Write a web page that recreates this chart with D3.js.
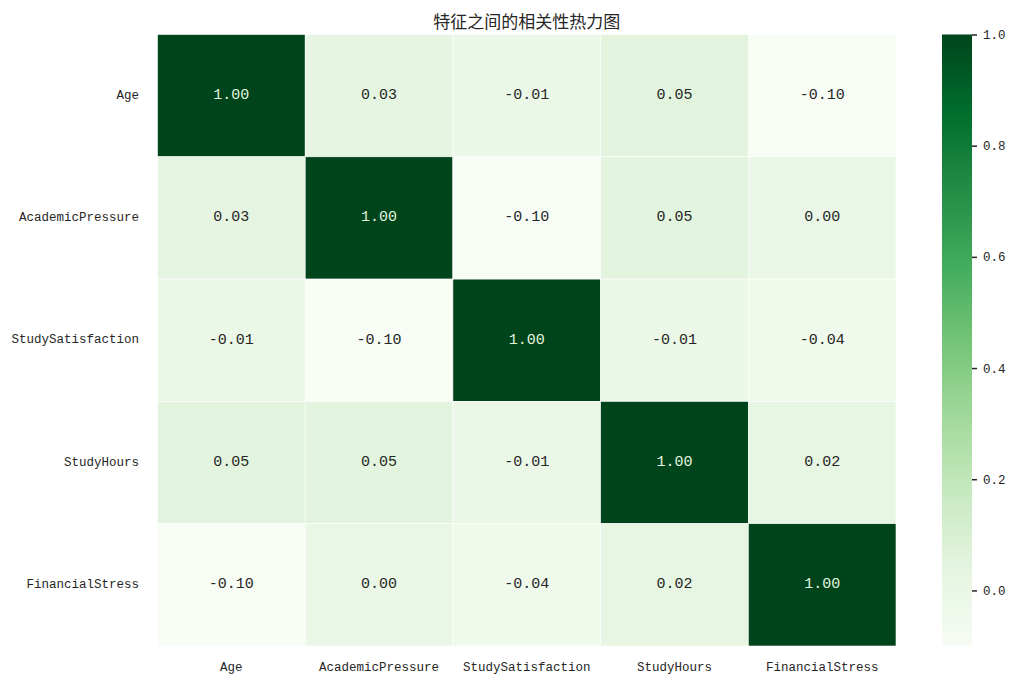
<!DOCTYPE html>
<html>
<head>
<meta charset="utf-8">
<script src="https://cdn.jsdelivr.net/npm/d3@7"></script>
<style>
  body { margin: 0; background: #fff; }
  text { font-family: "Liberation Mono", "DejaVu Sans Mono", monospace; }
  .title { font-family: "Noto Sans CJK SC", sans-serif; }
</style>
</head>
<body>
<svg id="chart" width="1020" height="684"></svg>
<script>
const features = ['Age', 'AcademicPressure', 'StudySatisfaction', 'StudyHours', 'FinancialStress'];

const corrAge = [1.00, 0.03, -0.01, 0.05, -0.10];
const corrAcademicPressure = [0.03, 1.00, -0.10, 0.05, 0.00];
const corrStudySatisfaction = [-0.01, -0.10, 1.00, -0.01, -0.04];
const corrStudyHours = [0.05, 0.05, -0.01, 1.00, 0.02];
const corrFinancialStress = [-0.10, 0.00, -0.04, 0.02, 1.00];

const colorbarTicks = [0.0, 0.2, 0.4, 0.6, 0.8, 1.0];

const matrix = [corrAge, corrAcademicPressure, corrStudySatisfaction, corrStudyHours, corrFinancialStress];

const O = {
    left: 157.5,
    right: 896,
    top: 34.5,
    bottom: 646,
    cbLeft: 942,
    cbWidth: 30,
    vmin: -0.1,
    vmax: 1.0
};

const svg = d3.select('#chart');

// matplotlib "Greens" = linear blend of the 9 ColorBrewer stops
const greens = d3.schemeGreens[9];
const stops = d3.range(9).map(i => O.vmin + (O.vmax - O.vmin) * i / 8);
const color = d3.scaleLinear().domain(stops).range(greens).interpolate(d3.interpolateRgb).clamp(true);

const x = d3.scaleBand().domain(features).range([O.left, O.right]);
const y = d3.scaleBand().domain(features).range([O.top, O.bottom]);

const cells = [];
matrix.forEach((row, i) => row.forEach((v, j) => cells.push({ row: features[i], col: features[j], v })));

svg.append('g')
    .selectAll('rect')
    .data(cells)
    .join('rect')
    .attr('x', d => x(d.col))
    .attr('y', d => y(d.row))
    .attr('width', x.bandwidth())
    .attr('height', y.bandwidth())
    .attr('fill', d => color(d.v))
    .attr('stroke', '#ffffff')
    .attr('stroke-width', 0.6);

svg.append('g')
    .selectAll('text')
    .data(cells)
    .join('text')
    .attr('x', d => x(d.col) + x.bandwidth() / 2)
    .attr('y', d => y(d.row) + y.bandwidth() / 2)
    .attr('text-anchor', 'middle')
    .attr('dominant-baseline', 'central')
    .style('font-size', '15px')
    .attr('fill', d => d.v > 0.6 ? '#e3f4df' : '#262626')
    .text(d => d3.format('.2f')(d.v).replace('−', '-'));

// axes without tick marks
svg.append('g')
    .selectAll('text')
    .data(features)
    .join('text')
    .attr('x', 139)
    .attr('y', d => y(d) + y.bandwidth() / 2)
    .attr('text-anchor', 'end')
    .attr('dominant-baseline', 'central')
    .style('font-size', '12.5px')
    .attr('fill', '#262626')
    .text(d => d);

svg.append('g')
    .selectAll('text')
    .data(features)
    .join('text')
    .attr('x', d => x(d) + x.bandwidth() / 2)
    .attr('y', 668)
    .attr('text-anchor', 'middle')
    .attr('dominant-baseline', 'central')
    .style('font-size', '12.5px')
    .attr('fill', '#262626')
    .text(d => d);

svg.append('text')
    .classed('title', true)
    .attr('x', (O.left + O.right) / 2)
    .attr('y', 20)
    .attr('text-anchor', 'middle')
    .attr('dominant-baseline', 'central')
    .style('font-size', '17px')
    .attr('fill', '#262626')
    .text('特征之间的相关性热力图');

// colorbar
const cbScale = d3.scaleLinear().domain([O.vmin, O.vmax]).range([O.bottom, O.top]);
const grad = svg.append('defs').append('linearGradient')
    .attr('id', 'cb-grad')
    .attr('x1', 0).attr('y1', 1).attr('x2', 0).attr('y2', 0);
grad.selectAll('stop')
    .data(d3.range(0, 1.0001, 0.02))
    .join('stop')
    .attr('offset', d => d)
    .attr('stop-color', d => color(O.vmin + d * (O.vmax - O.vmin)));

svg.append('rect')
    .attr('x', O.cbLeft)
    .attr('y', O.top)
    .attr('width', O.cbWidth)
    .attr('height', O.bottom - O.top)
    .attr('fill', 'url(#cb-grad)');

const cbAxis = svg.append('g')
    .attr('transform', `translate(${O.cbLeft + O.cbWidth}, 0)`)
    .call(d3.axisRight(cbScale).tickValues(colorbarTicks).tickSize(5).tickPadding(6).tickFormat(d3.format('.1f')));
cbAxis.select('.domain').remove();
cbAxis.selectAll('line').attr('stroke', '#262626').attr('stroke-width', 1.5);
cbAxis.selectAll('text')
    .style('font-size', '12.5px')
    .style('font-family', '"Liberation Mono", monospace')
    .attr('fill', '#262626');
</script>
</body>
</html>
